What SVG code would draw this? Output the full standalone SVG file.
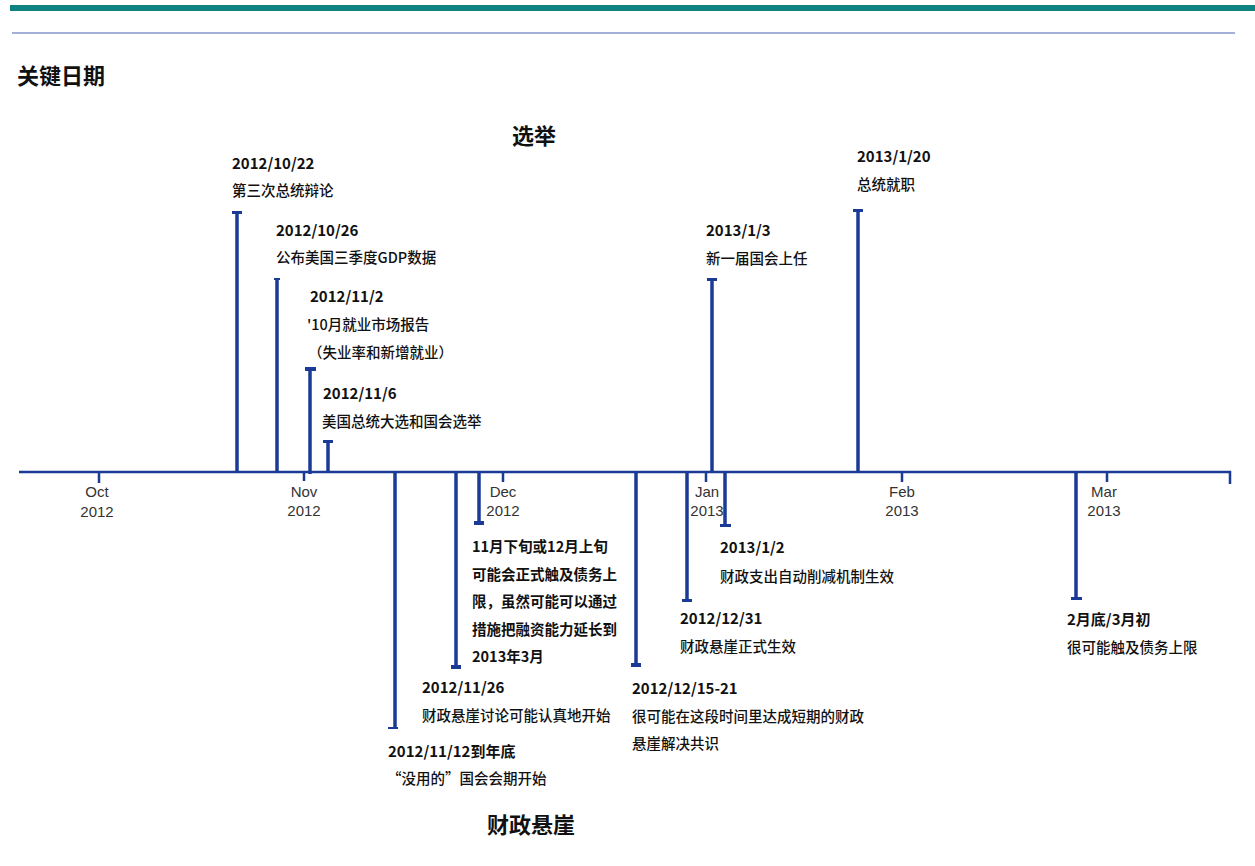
<svg xmlns="http://www.w3.org/2000/svg" width="1255" height="866" viewBox="0 0 1255 866">
<style>
.date{font-family:"Noto Sans CJK SC","Liberation Sans",sans-serif;font-size:15px;font-weight:700;fill:#111}
.bdesc{font-family:"Noto Sans CJK SC","Liberation Sans",sans-serif;font-size:14.5px;font-weight:700;fill:#111}
.desc{font-family:"Noto Sans CJK SC","Liberation Sans",sans-serif;font-size:14.5px;font-weight:500;fill:#111}
.head{font-family:"Noto Sans CJK SC","Liberation Sans",sans-serif;font-size:22px;font-weight:700;fill:#111}
.mon{font-family:"Liberation Sans",Arial,sans-serif;font-size:15px;fill:#333;text-anchor:middle}
.stem{stroke:#1a3a96;stroke-width:3.5;fill:none}
.cap{fill:#1a3a96}
.axis{stroke:#1a3a96;stroke-width:2.5;fill:none}
</style>
<rect width="1255" height="866" fill="#ffffff"/>
<rect x="10" y="5" width="1245" height="6" fill="#0f8282"/>
<rect x="12" y="32" width="1223" height="2" fill="#a3afd9"/>
<text class="head" x="17" y="84">关键日期</text>
<text class="head" x="512" y="144">选举</text>
<text class="head" x="487" y="833">财政悬崖</text>
<g id="connectors">
<path class="axis" d="M19 472H1230V484"/>
<path class="axis" d="M99 472V483M304 472V481M503 472V482M706 472V482M902 472V482M1107 472V482"/>
</g>
<g id="axis-labels">
<text class="mon" x="97" y="497">Oct</text><text class="mon" x="97" y="517">2012</text>
<text class="mon" x="304" y="497">Nov</text><text class="mon" x="304" y="516">2012</text>
<text class="mon" x="503" y="497">Dec</text><text class="mon" x="503" y="516">2012</text>
<text class="mon" x="707" y="497">Jan</text><text class="mon" x="707" y="516">2013</text>
<text class="mon" x="902" y="497">Feb</text><text class="mon" x="902" y="516">2013</text>
<text class="mon" x="1104" y="497">Mar</text><text class="mon" x="1104" y="516">2013</text>
</g>
<g id="e-20121022">
<path class="stem" d="M237 213V472"/><rect class="cap" x="232" y="211" width="10" height="3"/>
<text class="date" x="232" y="169">2012/10/22</text>
<text class="desc" x="232" y="196">第三次总统辩论</text>
</g>
<g id="e-20121026">
<path class="stem" d="M277 280V472"/><rect class="cap" x="274" y="278" width="6" height="2"/>
<text class="date" x="276" y="236">2012/10/26</text>
<text class="desc" x="276" y="263">公布美国三季度GDP数据</text>
</g>
<g id="e-20121102">
<path class="stem" d="M310 369V474" stroke-width="4"/><rect class="cap" x="305" y="367" width="11" height="4"/>
<text class="date" x="310" y="302">2012/11/2</text>
<text class="desc" x="307" y="330">'10月就业市场报告</text>
<text class="desc" x="308" y="358">（失业率和新增就业）</text>
</g>
<g id="e-20121106">
<path class="stem" d="M328 442V472"/><rect class="cap" x="323" y="440" width="10" height="3"/>
<text class="date" x="323" y="399">2012/11/6</text>
<text class="desc" x="322" y="427">美国总统大选和国会选举</text>
</g>
<g id="e-20130103">
<path class="stem" d="M712 280V472"/><rect class="cap" x="707" y="278" width="10" height="3"/>
<text class="date" x="706" y="236">2013/1/3</text>
<text class="desc" x="706" y="264">新一届国会上任</text>
</g>
<g id="e-20130120">
<path class="stem" d="M858 211V472"/><rect class="cap" x="853" y="209" width="10" height="3"/>
<text class="date" x="857" y="162">2013/1/20</text>
<text class="desc" x="857" y="190">总统就职</text>
</g>
<g id="e-20121112">
<path class="stem" d="M395 472V728"/><rect class="cap" x="388" y="727" width="10" height="2"/>
<text class="date" x="388" y="757">2012/11/12到年底</text>
<text class="desc" x="387" y="784">“没用的”国会会期开始</text>
</g>
<g id="e-20121126">
<path class="stem" d="M456 472V667"/><rect class="cap" x="451" y="665" width="10" height="4"/>
<text class="date" x="422" y="693">2012/11/26</text>
<text class="desc" x="422" y="721">财政悬崖讨论可能认真地开始</text>
</g>
<g id="e-debt-limit-1">
<path class="stem" d="M479 472V523"/><rect class="cap" x="474" y="521" width="10" height="4"/>
<text class="bdesc" x="472" y="552">11月下旬或12月上旬</text>
<text class="bdesc" x="472" y="580">可能会正式触及债务上</text>
<text class="bdesc" x="472" y="607">限，虽然可能可以通过</text>
<text class="bdesc" x="472" y="635">措施把融资能力延长到</text>
<text class="bdesc" x="472" y="662">2013年3月</text>
</g>
<g id="e-20121215">
<path class="stem" d="M636 472V665"/><rect class="cap" x="631" y="663" width="10" height="4"/>
<text class="date" x="632" y="694">2012/12/15-21</text>
<text class="desc" x="632" y="722">很可能在这段时间里达成短期的财政</text>
<text class="desc" x="632" y="749">悬崖解决共识</text>
</g>
<g id="e-20121231">
<path class="stem" d="M687 472V601"/><rect class="cap" x="682" y="599" width="10" height="3"/>
<text class="date" x="680" y="624">2012/12/31</text>
<text class="desc" x="680" y="652">财政悬崖正式生效</text>
</g>
<g id="e-20130102">
<path class="stem" d="M725 472V526"/><rect class="cap" x="720" y="524" width="11" height="3"/>
<text class="date" x="720" y="553">2013/1/2</text>
<text class="desc" x="720" y="582">财政支出自动削减机制生效</text>
</g>
<g id="e-debt-limit-2">
<path class="stem" d="M1076 472V598" stroke-width="4"/><rect class="cap" x="1071" y="597" width="11" height="3"/>
<text class="date" x="1067" y="625">2月底/3月初</text>
<text class="desc" x="1067" y="653">很可能触及债务上限</text>
</g>
</svg>
